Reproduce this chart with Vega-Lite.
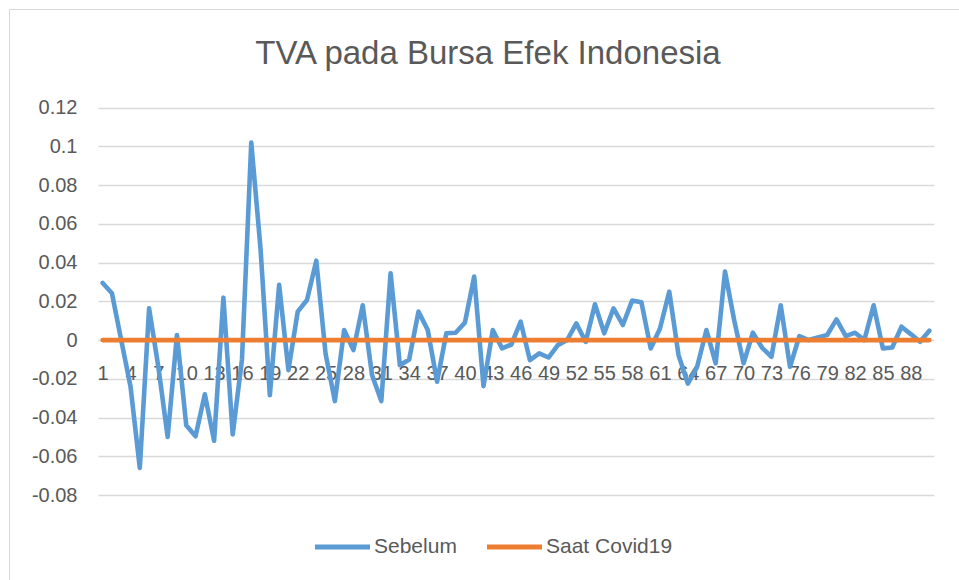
{
  "$schema": "https://vega.github.io/schema/vega-lite/v6.json",
  "autosize": "none",
  "padding": {"left": 9, "top": 9, "right": 0, "bottom": 0},
  "width": 950,
  "height": 571,
  "background": "white",
  "config": {
    "view": {"stroke": "#D9D9D9", "strokeWidth": 1},
    "font": "Liberation Sans"
  },
  "title": {
    "text": "TVA pada Bursa Efek Indonesia",
    "fontSize": 33,
    "fontWeight": "normal",
    "color": "#595959",
    "font": "Liberation Sans",
    "anchor": "middle",
    "frame": "group",
    "baseline": "alphabetic",
    "offset": -88,
    "dx": 4
  },
  "datasets": {
    "sebelum": [
      {"i":1,"v":0.0295},{"i":2,"v":0.0242},{"i":3,"v":0.0},{"i":4,"v":-0.024},{"i":5,"v":-0.066},
      {"i":6,"v":0.0164},{"i":7,"v":-0.014},{"i":8,"v":-0.050},{"i":9,"v":0.0026},{"i":10,"v":-0.044},
      {"i":11,"v":-0.0497},{"i":12,"v":-0.028},{"i":13,"v":-0.052},{"i":14,"v":0.0219},{"i":15,"v":-0.0487},
      {"i":16,"v":-0.010},{"i":17,"v":0.102},{"i":18,"v":0.047},{"i":19,"v":-0.0285},{"i":20,"v":0.0285},
      {"i":21,"v":-0.0155},{"i":22,"v":0.0147},{"i":23,"v":0.0207},{"i":24,"v":0.041},{"i":25,"v":-0.007},
      {"i":26,"v":-0.0315},{"i":27,"v":0.0052},{"i":28,"v":-0.0052},{"i":29,"v":0.018},{"i":30,"v":-0.018},
      {"i":31,"v":-0.0315},{"i":32,"v":0.0345},{"i":33,"v":-0.013},{"i":34,"v":-0.010},{"i":35,"v":0.0147},
      {"i":36,"v":0.0052},{"i":37,"v":-0.0215},{"i":38,"v":0.0035},{"i":39,"v":0.0038},{"i":40,"v":0.009},
      {"i":41,"v":0.0328},{"i":42,"v":-0.0238},{"i":43,"v":0.0052},{"i":44,"v":-0.0043},{"i":45,"v":-0.0023},
      {"i":46,"v":0.0095},{"i":47,"v":-0.0104},{"i":48,"v":-0.0069},{"i":49,"v":-0.009},{"i":50,"v":-0.0026},
      {"i":51,"v":0.0},{"i":52,"v":0.0086},{"i":53,"v":-0.0009},{"i":54,"v":0.0185},{"i":55,"v":0.0035},
      {"i":56,"v":0.0164},{"i":57,"v":0.0078},{"i":58,"v":0.0204},{"i":59,"v":0.0195},{"i":60,"v":-0.0043},
      {"i":61,"v":0.006},{"i":62,"v":0.025},{"i":63,"v":-0.0078},{"i":64,"v":-0.0225},{"i":65,"v":-0.0138},
      {"i":66,"v":0.0052},{"i":67,"v":-0.012},{"i":68,"v":0.0354},{"i":69,"v":0.01},{"i":70,"v":-0.012},
      {"i":71,"v":0.0038},{"i":72,"v":-0.004},{"i":73,"v":-0.0086},{"i":74,"v":0.018},{"i":75,"v":-0.0138},
      {"i":76,"v":0.002},{"i":77,"v":0.0},{"i":78,"v":0.0014},{"i":79,"v":0.0026},{"i":80,"v":0.0107},
      {"i":81,"v":0.002},{"i":82,"v":0.0038},{"i":83,"v":0.0},{"i":84,"v":0.018},{"i":85,"v":-0.0043},
      {"i":86,"v":-0.0038},{"i":87,"v":0.0069},{"i":88,"v":0.0031},{"i":89,"v":-0.0009},{"i":90,"v":0.0048}
    ],
    "covid": [
      {"i":1,"v":0},{"i":2,"v":0},{"i":3,"v":0},{"i":4,"v":0},{"i":5,"v":0},{"i":6,"v":0},{"i":7,"v":0},{"i":8,"v":0},{"i":9,"v":0},{"i":10,"v":0},
      {"i":11,"v":0},{"i":12,"v":0},{"i":13,"v":0},{"i":14,"v":0},{"i":15,"v":0},{"i":16,"v":0},{"i":17,"v":0},{"i":18,"v":0},{"i":19,"v":0},{"i":20,"v":0},
      {"i":21,"v":0},{"i":22,"v":0},{"i":23,"v":0},{"i":24,"v":0},{"i":25,"v":0},{"i":26,"v":0},{"i":27,"v":0},{"i":28,"v":0},{"i":29,"v":0},{"i":30,"v":0},
      {"i":31,"v":0},{"i":32,"v":0},{"i":33,"v":0},{"i":34,"v":0},{"i":35,"v":0},{"i":36,"v":0},{"i":37,"v":0},{"i":38,"v":0},{"i":39,"v":0},{"i":40,"v":0},
      {"i":41,"v":0},{"i":42,"v":0},{"i":43,"v":0},{"i":44,"v":0},{"i":45,"v":0},{"i":46,"v":0},{"i":47,"v":0},{"i":48,"v":0},{"i":49,"v":0},{"i":50,"v":0},
      {"i":51,"v":0},{"i":52,"v":0},{"i":53,"v":0},{"i":54,"v":0},{"i":55,"v":0},{"i":56,"v":0},{"i":57,"v":0},{"i":58,"v":0},{"i":59,"v":0},{"i":60,"v":0},
      {"i":61,"v":0},{"i":62,"v":0},{"i":63,"v":0},{"i":64,"v":0},{"i":65,"v":0},{"i":66,"v":0},{"i":67,"v":0},{"i":68,"v":0},{"i":69,"v":0},{"i":70,"v":0},
      {"i":71,"v":0},{"i":72,"v":0},{"i":73,"v":0},{"i":74,"v":0},{"i":75,"v":0},{"i":76,"v":0},{"i":77,"v":0},{"i":78,"v":0},{"i":79,"v":0},{"i":80,"v":0},
      {"i":81,"v":0},{"i":82,"v":0},{"i":83,"v":0},{"i":84,"v":0},{"i":85,"v":0},{"i":86,"v":0},{"i":87,"v":0},{"i":88,"v":0},{"i":89,"v":0},{"i":90,"v":0}
    ]
  },
  "encoding": {
    "x": {
      "field": "i",
      "type": "quantitative",
      "scale": {"domain": [0.5, 90.5], "range": [89, 925], "nice": false, "zero": false},
      "axis": {
        "values": [1,4,7,10,13,16,19,22,25,28,31,34,37,40,43,46,49,52,55,58,61,64,67,70,73,76,79,82,85,88],
        "format": "d",
        "title": null,
        "domain": false,
        "ticks": false,
        "tickSize": 0,
        "grid": false,
        "offset": -240,
        "labelPadding": 23,
        "labelFontSize": 20,
        "labelColor": "#595959",
        "labelFont": "Liberation Sans",
        "labelOverlap": false,
        "labelBound": false,
        "labelFlush": false
      }
    },
    "y": {
      "field": "v",
      "type": "quantitative",
      "scale": {"domain": [-0.08, 0.12], "range": [486, 98.7], "nice": false, "zero": false},
      "axis": {
        "values": [-0.08,-0.06,-0.04,-0.02,0,0.02,0.04,0.06,0.08,0.1,0.12],
        "labelExpr": "toString(datum.value)",
        "title": null,
        "domain": false,
        "ticks": false,
        "tickSize": 0,
        "grid": true,
        "gridColor": "#D9D9D9",
        "gridWidth": 1.3,
        "offset": -68,
        "labelPadding": 0,
        "labelFontSize": 20,
        "labelColor": "#595959",
        "labelFont": "Liberation Sans",
        "labelOverlap": false,
        "labelBound": false,
        "labelFlush": false
      }
    }
  },
  "layer": [
    {
      "data": {"name": "sebelum"},
      "mark": {"type": "line", "strokeWidth": 4.6, "strokeCap": "round", "strokeJoin": "round"},
      "encoding": {
        "color": {
          "datum": "Sebelum",
          "type": "nominal",
          "scale": {"domain": ["Sebelum", "Saat Covid19"], "range": ["#5B9BD5", "#ED7D31"]},
          "legend": {
            "orient": "none",
            "legendX": 303.5,
            "legendY": 508,
            "direction": "horizontal",
            "title": null,
            "symbolType": "stroke",
            "symbolSize": 3025,
            "symbolStrokeWidth": 5,
            "labelFontSize": 21,
            "labelFont": "Liberation Sans",
            "labelColor": "#595959",
            "labelOffset": 1.5,
            "columnPadding": 19,
            "labelLimit": 300
          }
        }
      }
    },
    {
      "data": {"name": "covid"},
      "mark": {"type": "line", "strokeWidth": 4.6, "strokeCap": "round", "strokeJoin": "round"},
      "encoding": {
        "color": {"datum": "Saat Covid19", "type": "nominal"}
      }
    }
  ]
}
